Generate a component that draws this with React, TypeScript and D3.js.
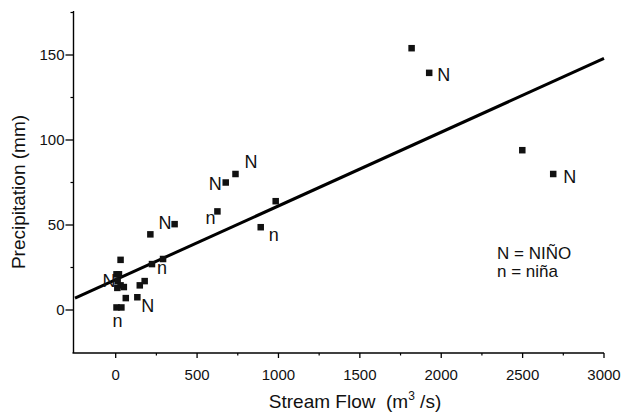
import React from "react";
import * as d3 from "d3";

const flow = [5, 20, 12, 30, 10, 50, 62, 5, 35, 30, 133, 148, 178, 223, 291, 213, 362, 625, 676, 736, 891, 983, 1818, 1926, 2498, 2688];
const precip = [21, 21, 17, 14.5, 13, 13.5, 7, 1.5, 1.5, 29.5, 7.5, 14.5, 17, 27, 30, 44.5, 50.5, 58, 75, 80, 48.7, 64, 154, 139.5, 94, 80];

// label text, attached point index
const labelText = ["N", "N", "N", "N", "n", "n", "N", "n", "N", "n", "N"];
const labelPoint = [23, 25, 19, 18, 17, 20, 16, 14, 10, 7, 0];

const fitX = [-250, 3000];
const fitY = [7, 148];

const xTicks = [0, 500, 1000, 1500, 2000, 2500, 3000];
const xMinor = [250, 750, 1250, 1750, 2250, 2750];
const yTicks = [0, 50, 100, 150];
const yMinor = [25, 75, 125, 175];

const legendLines = ["N = NIÑO", "n = niña"];

// label pixel offsets relative to its point (style, not data)
const labelOffset: [number, number][] = [
  [8, 8], [10, 9], [9, -6], [-17, 7], [-12, 13], [8, 14], [-16, 5], [-6, 15], [4, 15], [-4, 20], [-14, 13],
];

export default function App() {
  const W = 626, H = 416;
  const x = d3.scaleLinear().domain([-250, 3000]).range([75, 604]);
  const y = d3.scaleLinear().domain([-25, 175]).range([352.5, 12.5]);
  const font = "'Liberation Sans', Arial, sans-serif";
  const axX = 73.5, axY = 353;
  const line = d3.line<number>().x((d) => x(fitX[d])).y((d) => y(fitY[d]));
  const sq = 6.5;
  return (
    <svg width={W} height={H} style={{ position: "absolute", left: 0, top: 0, background: "#fff" }} fontFamily={font}>
      <rect width={W} height={H} fill="#fff" />
      {/* axes */}
      <line x1={axX} x2={axX} y1={11} y2={axY} stroke="#000" strokeWidth={1.4} />
      <line x1={axX - 1} x2={604} y1={axY} y2={axY} stroke="#000" strokeWidth={1.4} />
      {xTicks.map((t) => (
        <g key={"xt" + t}>
          <line x1={x(t)} x2={x(t)} y1={axY} y2={axY + 5} stroke="#000" strokeWidth={1.3} />
          <text x={x(t)} y={380} textAnchor="middle" fontSize={15} fill="#111">{t}</text>
        </g>
      ))}
      {xMinor.map((t) => (
        <line key={"xm" + t} x1={x(t)} x2={x(t)} y1={axY} y2={axY + 2.5} stroke="#000" strokeWidth={1.2} />
      ))}
      {yTicks.map((t) => (
        <g key={"yt" + t}>
          <line x1={axX - 8} x2={axX} y1={y(t)} y2={y(t)} stroke="#000" strokeWidth={1.3} />
          <text x={axX - 9} y={y(t) + 5} textAnchor="end" fontSize={15} fill="#111">{t}</text>
        </g>
      ))}
      {yMinor.map((t) => (
        <line key={"ym" + t} x1={axX - 3} x2={axX} y1={y(t)} y2={y(t)} stroke="#000" strokeWidth={1.2} />
      ))}
      {/* regression line */}
      <path d={line([0, 1]) || ""} stroke="#000" strokeWidth={3} fill="none" />
      {/* points */}
      {flow.map((f, i) => (
        <rect key={"p" + i} x={x(f) - sq / 2} y={y(precip[i]) - sq / 2} width={sq} height={sq} fill="#111" />
      ))}
      {/* labels */}
      {labelText.map((t, i) => {
        const p = labelPoint[i];
        const [dx, dy] = labelOffset[i];
        return (
          <text key={"l" + i} x={x(flow[p]) + dx} y={y(precip[p]) + dy} fontSize={18} fill="#111">{t}</text>
        );
      })}
      {/* legend */}
      {legendLines.map((t, i) => (
        <text key={"lg" + i} x={497} y={259 + i * 18} fontSize={17} fill="#111">{t}</text>
      ))}
      {/* axis titles */}
      <text x={355} y={408} textAnchor="middle" fontSize={19} fill="#111">
        Stream Flow{"\u00a0\u00a0"}(m<tspan dy={-8} fontSize={12}>3</tspan><tspan dy={8}>{"\u00a0"}/s)</tspan>
      </text>
      <text transform={`translate(25,192) rotate(-90)`} textAnchor="middle" fontSize={19} fill="#111">Precipitation (mm)</text>
    </svg>
  );
}
